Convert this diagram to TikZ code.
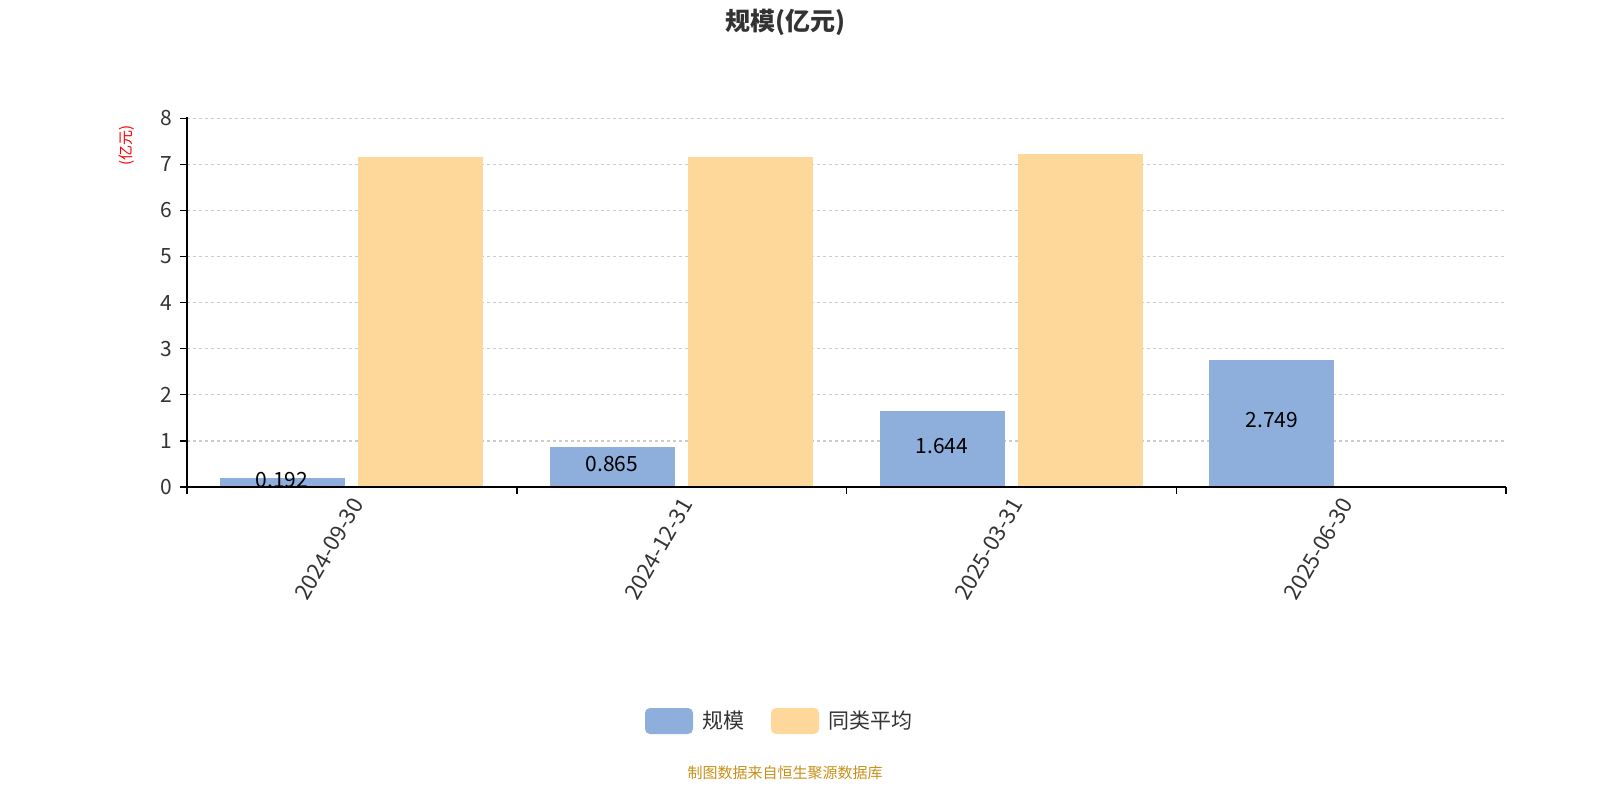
\documentclass[tikz,border=0pt]{standalone}
\usepackage{fontspec}
\setmainfont{Noto Sans CJK SC}
\definecolor{barblue}{HTML}{8EAEDB}
\definecolor{barorange}{HTML}{FDD89A}
\definecolor{gridgray}{HTML}{CCCCCC}
\definecolor{txtgray}{HTML}{333333}
\definecolor{srcgold}{HTML}{C8901A}
\begin{document}
\begin{tikzpicture}[x=1pt,y=-1pt,
	gridline/.style={gridgray,dashed,line width=1.2pt},
	bluebar/.style={fill=barblue},
	orangebar/.style={fill=barorange},
	ticklabel/.style={font=\fontsize{21}{25}\selectfont,text=txtgray},
	datelabel/.style={font=\fontsize{22}{26}\selectfont,text=txtgray,inner sep=1pt},
	vallabel/.style={font=\fontsize{21}{25}\selectfont}]
	\useasboundingbox (0,0) rectangle (1600,800);
	\node[font=\fontsize{25}{30}\selectfont\bfseries,text=txtgray] (title) at (785,22) {规模(亿元)};
	\node[rotate=90,red,font=\fontsize{15}{18}\selectfont] (unit) at (127,145) {(亿元)};
	% gridlines and y ticks
	\foreach \v in {0,...,8}{
		\pgfmathsetmacro\yy{487-46.1*\v}
		\ifnum\v>0 \draw[gridline] (187,\yy) -- (1506,\yy); \fi
		\draw[line width=1.2pt] (180,\yy) -- (187,\yy);
		\node[ticklabel,anchor=east] (ylab\v) at (176,\yy) {\v};
	}
	% bars
	\foreach \i/\b/\o in {0/0.192/7.15,1/0.865/7.16,2/1.644/7.22}{
		\pgfmathsetmacro\xx{187+329.75*\i}
		\fill[bluebar] (\xx+33,487) rectangle (\xx+158,487-46.1*\b);
		\fill[orangebar] (\xx+171,487) rectangle (\xx+296,487-46.1*\o);
	}
	\fill[bluebar] (187+329.75*3+33,487) rectangle (187+329.75*3+158,487-46.1*2.749);
	\node[vallabel] (v1) at (282,480) {0.192};
	\node[vallabel] (v2) at (612,464) {0.865};
	\node[vallabel] (v3) at (942,446) {1.644};
	\node[vallabel] (v4) at (1272,420) {2.749};
	% axes
	\draw[line width=1.5pt] (187,117) -- (187,487) -- (1506,487);
	\foreach \i in {0,...,4}
		\draw[line width=1.5pt] (187+329.75*\i,487) -- (187+329.75*\i,494);
	\foreach \i/\d in {0/2024-09-30,1/2024-12-31,2/2025-03-31,3/2025-06-30}
		\node[datelabel,rotate=60,anchor=east] (xlab\i) at (187+329.75*\i+171,499) {\d};
	% legend
	\fill[bluebar,rounded corners=5pt] (645,708) rectangle (693,734);
	\node[ticklabel,anchor=west] (leg1) at (699,721) {规模};
	\fill[orangebar,rounded corners=5pt] (771,708) rectangle (819,734);
	\node[ticklabel,anchor=west] (leg2) at (825,721) {同类平均};
	\node[srcgold,font=\fontsize{15}{18}\selectfont] (src) at (785,773) {制图数据来自恒生聚源数据库};
\end{tikzpicture}
\end{document}
